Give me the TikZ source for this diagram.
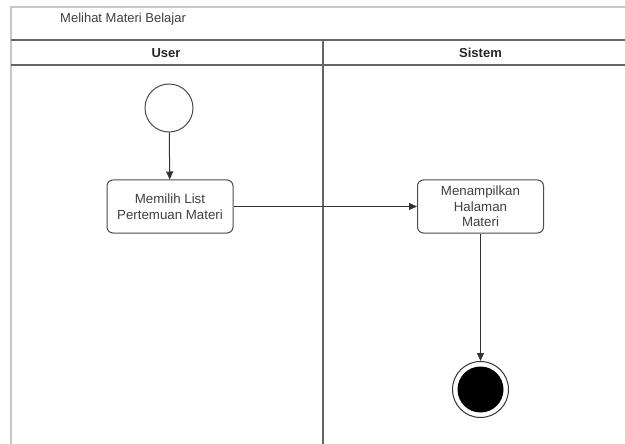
\documentclass[tikz,border=0pt]{standalone}
\usepackage{fontspec}
\setmainfont{Liberation Sans}
\usetikzlibrary{arrows.meta}
\begin{document}
\begin{tikzpicture}[x=1pt,y=-1pt,
  frameline/.style={draw=black!22,line width=1.2pt},
  laneline/.style={draw=black!60,line width=1.8pt},
  divider/.style={draw=black!60,line width=1.4pt},
  action/.style={draw=black!70,line width=1pt,rounded corners=6pt,fill=white,
    minimum width=126pt,minimum height=53pt,align=center,inner sep=2pt,
    font=\fontsize{13.3pt}{15.5pt}\selectfont,text=black!75},
  startnode/.style={circle,draw=black!70,line width=1pt,minimum size=48pt,inner sep=0pt,fill=white},
  endnode/.style={circle,draw=black!80,line width=1pt,minimum size=56pt,inner sep=0pt,fill=white,
    path picture={\fill[black] (path picture bounding box.center) circle (23pt);}},
  flow/.style={draw=black!80,line width=1pt,-{Triangle[length=8pt,width=7pt]}},
  header/.style={font=\fontsize{13pt}{15pt}\selectfont\bfseries,text=black!85},
  titletext/.style={font=\fontsize{13pt}{15pt}\selectfont,text=black!75,anchor=west,inner sep=0pt}
]
\useasboundingbox (0,0) rectangle (625,444);
\fill[white] (0,0) rectangle (625,444);

% outer frame and lane headers
\draw[frameline] (11,444) -- (11,7) -- (625,7);
\draw[laneline] (11,40) -- (625,40);
\draw[laneline] (11,65) -- (625,65);
\draw[divider] (323,40) -- (323,444);

\node[titletext] (title) at (60,19) {Melihat Materi Belajar};
\node[header] (userlane) at (166,53) {User};
\node[header] (sistemlane) at (480.5,53) {Sistem};

% activity nodes
\node[startnode] (start) at (169,108) {};
\node[action] (pilih) at (170,206.5) {Memilih List\\Pertemuan Materi};
\node[action] (tampil) at (480.5,206.5) {Menampilkan\\Halaman\\Materi};
\node[endnode] (end) at (480.5,389.5) {};

% control flow
\draw[flow] (start) -- (pilih);
\draw[flow] (pilih) -- (tampil);
\draw[flow] (tampil) -- (end);
\end{tikzpicture}
\end{document}
